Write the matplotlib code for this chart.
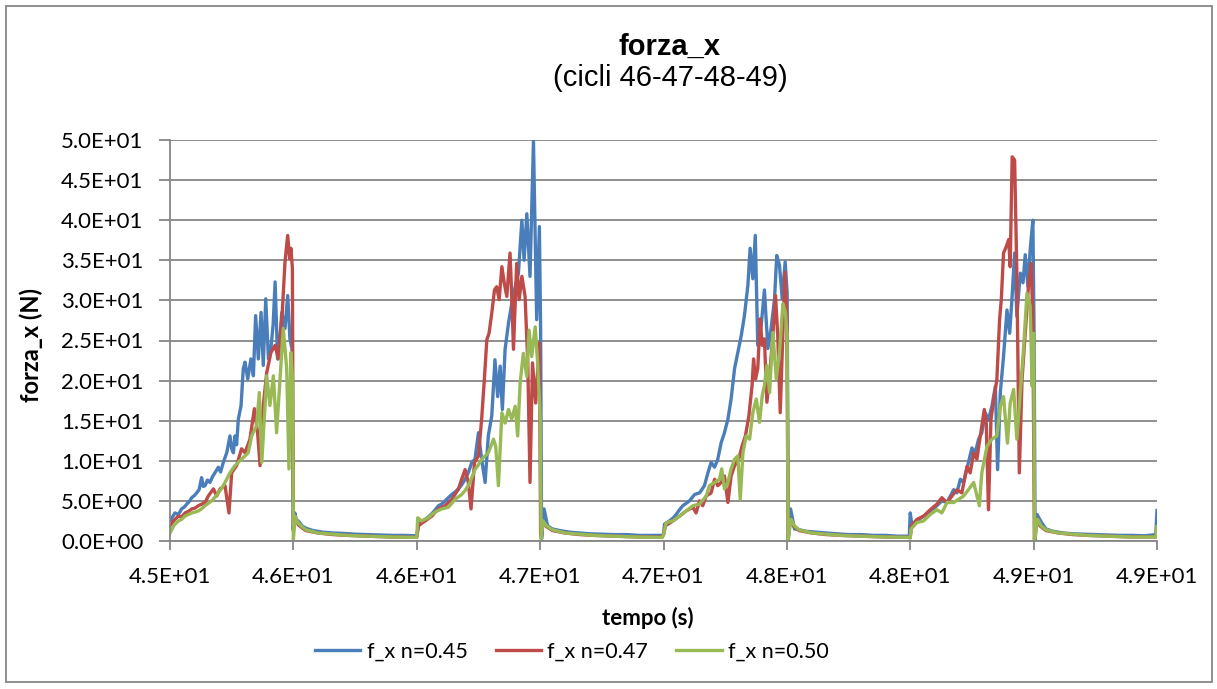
import matplotlib
matplotlib.use("Agg")
import matplotlib.pyplot as plt
from matplotlib.patches import Rectangle

# ---------------- data ----------------
series_labels = ["f_x n=0.45", "f_x n=0.47", "f_x n=0.50"]
series_colors = ["#4A7EBB", "#BE4B48", "#98B954"]

x_ticks = [45.0, 45.5, 46.0, 46.5, 47.0, 47.5, 48.0, 48.5, 49.0]
x_tick_labels = ["4.5E+01", "4.6E+01", "4.6E+01", "4.7E+01", "4.7E+01",
                 "4.8E+01", "4.8E+01", "4.9E+01", "4.9E+01"]
y_ticks = [0, 5, 10, 15, 20, 25, 30, 35, 40, 45, 50]
y_tick_labels = ["0.0E+00", "5.0E+00", "1.0E+01", "1.5E+01", "2.0E+01", "2.5E+01",
                 "3.0E+01", "3.5E+01", "4.0E+01", "4.5E+01", "5.0E+01"]

# f_x n=0.45  (time s, force N)
fx_045 = [
    (45.000, 2.3), (45.010, 3.0), (45.020, 3.5), (45.034, 3.3), (45.047, 4.0), (45.060, 4.3),
    (45.068, 4.6), (45.080, 5.0), (45.088, 5.4), (45.100, 5.7), (45.108, 6.0), (45.118, 6.4),
    (45.128, 7.9), (45.135, 6.8), (45.142, 6.9), (45.152, 7.6), (45.162, 7.3), (45.172, 8.0),
    (45.182, 8.5), (45.196, 9.2), (45.205, 8.6), (45.216, 9.8), (45.230, 11.0), (45.243, 13.1),
    (45.250, 11.5), (45.257, 11.0), (45.263, 13.1), (45.270, 12.0), (45.277, 15.2), (45.288, 16.9),
    (45.297, 21.5), (45.304, 22.3), (45.315, 20.2), (45.328, 22.7), (45.338, 20.6), (45.347, 28.1),
    (45.358, 22.7), (45.369, 28.5), (45.378, 21.9), (45.388, 30.2), (45.399, 22.7), (45.409, 24.0),
    (45.418, 27.0), (45.426, 32.3), (45.436, 22.7), (45.445, 25.0), (45.453, 28.5), (45.466, 26.5),
    (45.477, 30.6), (45.486, 25.2), (45.494, 24.0), (45.499, 1.5), (45.506, 3.5), (45.512, 2.6),
    (45.520, 2.5), (45.535, 1.9), (45.550, 1.6), (45.580, 1.3), (45.620, 1.1), (45.660, 1.0),
    (45.700, 0.95), (45.750, 0.85), (45.800, 0.8), (45.850, 0.75), (45.900, 0.7), (45.950, 0.7),
    (45.995, 0.65),
    (46.000, 0.66), (46.007, 2.1), (46.020, 2.4), (46.034, 2.7), (46.047, 3.0), (46.061, 3.4),
    (46.075, 3.9), (46.088, 4.4), (46.101, 4.6), (46.115, 5.0), (46.128, 5.4), (46.142, 5.8),
    (46.155, 6.1), (46.169, 6.5), (46.182, 7.0), (46.196, 7.7), (46.210, 8.6), (46.223, 9.8),
    (46.236, 10.2), (46.250, 13.5), (46.263, 10.2), (46.277, 7.3), (46.290, 13.1), (46.304, 15.6),
    (46.317, 22.6), (46.328, 18.0), (46.338, 21.8), (46.347, 16.4), (46.358, 23.9), (46.372, 27.2),
    (46.385, 29.6), (46.399, 31.7), (46.412, 33.4), (46.426, 40.0), (46.435, 35.0), (46.446, 40.8),
    (46.459, 33.0), (46.473, 49.9), (46.486, 27.6), (46.497, 39.2), (46.502, 26.3), (46.506, 0.3),
    (46.516, 4.0), (46.530, 1.9), (46.550, 1.5), (46.580, 1.3), (46.620, 1.1), (46.660, 1.0),
    (46.700, 0.9), (46.750, 0.85), (46.800, 0.8), (46.850, 0.8), (46.900, 0.7), (46.950, 0.7),
    (46.995, 0.7),
    (47.000, 0.8), (47.004, 2.1), (47.024, 2.5), (47.040, 2.9), (47.051, 3.3), (47.065, 3.9),
    (47.078, 4.4), (47.092, 4.7), (47.105, 5.0), (47.126, 5.8), (47.146, 6.0), (47.166, 6.9),
    (47.180, 8.5), (47.193, 9.8), (47.207, 9.2), (47.220, 10.2), (47.234, 12.3), (47.247, 13.5),
    (47.261, 15.2), (47.274, 17.7), (47.288, 21.5), (47.301, 23.5), (47.315, 25.6), (47.328, 28.1),
    (47.342, 31.9), (47.351, 36.5), (47.362, 32.7), (47.372, 38.1), (47.382, 24.4), (47.396, 26.9),
    (47.409, 31.3), (47.423, 24.0), (47.436, 26.5), (47.450, 30.2), (47.459, 35.6), (47.470, 34.4),
    (47.481, 30.2), (47.493, 34.8), (47.501, 31.0), (47.506, 0.2), (47.515, 4.0), (47.531, 1.5),
    (47.550, 1.4), (47.580, 1.2), (47.620, 1.1), (47.660, 1.0), (47.700, 0.9), (47.750, 0.8),
    (47.800, 0.8), (47.850, 0.7), (47.900, 0.7), (47.950, 0.6), (47.996, 0.6),
    (48.000, 3.5), (48.007, 1.9), (48.027, 2.5), (48.054, 3.1), (48.081, 3.7), (48.108, 4.4),
    (48.128, 5.0), (48.149, 4.8), (48.176, 6.4), (48.189, 6.0), (48.203, 7.7), (48.216, 7.3),
    (48.236, 9.8), (48.250, 11.6), (48.263, 11.0), (48.277, 12.7), (48.290, 13.5), (48.304, 16.0),
    (48.317, 15.1), (48.331, 16.8), (48.345, 19.3), (48.354, 8.9), (48.365, 18.5), (48.378, 23.0),
    (48.392, 28.8), (48.403, 25.9), (48.412, 30.1), (48.423, 35.9), (48.432, 28.0), (48.446, 33.4),
    (48.457, 32.2), (48.466, 35.7), (48.477, 31.7), (48.486, 36.3), (48.497, 40.0), (48.502, 25.1),
    (48.506, 0.2), (48.514, 3.3), (48.532, 2.3), (48.550, 1.5), (48.580, 1.2), (48.620, 1.0),
    (48.660, 0.9), (48.700, 0.85), (48.750, 0.8), (48.800, 0.75), (48.850, 0.7), (48.900, 0.7),
    (48.950, 0.65), (48.995, 0.8), (49.000, 3.8),
]

# f_x n=0.47
fx_047 = [
    (45.000, 1.9), (45.017, 2.6), (45.034, 3.1), (45.047, 3.0), (45.061, 3.5), (45.075, 3.7),
    (45.088, 4.0), (45.101, 4.1), (45.115, 4.4), (45.128, 4.6), (45.142, 4.8), (45.155, 5.6),
    (45.176, 6.5), (45.189, 5.6), (45.203, 6.5), (45.223, 6.9), (45.239, 3.5), (45.250, 8.5),
    (45.270, 9.4), (45.290, 11.5), (45.304, 11.0), (45.324, 12.7), (45.342, 16.5), (45.355, 13.5),
    (45.365, 9.4), (45.378, 16.9), (45.392, 21.0), (45.409, 23.5), (45.426, 24.4), (45.439, 22.7),
    (45.455, 28.5), (45.466, 34.8), (45.477, 38.1), (45.485, 35.2), (45.490, 36.5), (45.496, 34.0),
    (45.500, 1.2), (45.506, 3.0), (45.520, 2.0), (45.550, 1.3), (45.600, 1.0), (45.660, 0.8),
    (45.720, 0.7), (45.800, 0.6), (45.900, 0.5), (45.995, 0.45),
    (46.000, 0.45), (46.007, 1.9), (46.020, 2.2), (46.034, 2.5), (46.047, 2.8), (46.061, 3.1),
    (46.075, 3.6), (46.088, 4.0), (46.101, 4.2), (46.115, 4.4), (46.128, 4.8), (46.142, 5.2),
    (46.155, 5.8), (46.169, 6.5), (46.182, 7.7), (46.196, 8.9), (46.209, 7.3), (46.220, 4.0),
    (46.234, 9.8), (46.250, 10.6), (46.263, 15.2), (46.273, 19.7), (46.284, 25.1), (46.293, 25.9),
    (46.304, 28.4), (46.315, 31.3), (46.324, 31.7), (46.334, 30.1), (46.345, 34.2), (46.355, 32.1),
    (46.365, 30.5), (46.378, 35.9), (46.385, 30.5), (46.392, 23.9), (46.405, 34.6), (46.415, 30.1),
    (46.426, 33.0), (46.439, 30.5), (46.450, 22.2), (46.459, 7.3), (46.469, 22.2), (46.482, 17.2),
    (46.497, 24.7), (46.502, 0.7), (46.510, 2.5), (46.525, 1.8), (46.550, 1.3), (46.600, 1.0),
    (46.660, 0.8), (46.720, 0.7), (46.800, 0.6), (46.900, 0.5), (46.995, 0.5),
    (47.000, 0.8), (47.008, 1.9), (47.038, 2.5), (47.065, 3.1), (47.092, 3.75), (47.119, 4.2),
    (47.132, 3.5), (47.146, 5.0), (47.159, 4.4), (47.173, 5.6), (47.193, 6.0), (47.207, 7.7),
    (47.220, 6.9), (47.234, 7.3), (47.247, 8.1), (47.261, 4.8), (47.274, 8.1), (47.288, 9.4),
    (47.305, 10.2), (47.319, 11.9), (47.332, 13.1), (47.346, 15.6), (47.359, 19.4), (47.365, 22.7),
    (47.373, 20.2), (47.382, 21.5), (47.392, 27.7), (47.400, 24.4), (47.409, 25.2), (47.419, 17.3),
    (47.430, 20.6), (47.443, 25.6), (47.454, 30.6), (47.463, 25.6), (47.473, 16.0), (47.484, 26.0),
    (47.492, 33.5), (47.500, 27.7), (47.505, 0.2), (47.512, 2.8), (47.525, 1.9), (47.550, 1.3),
    (47.600, 1.0), (47.660, 0.8), (47.720, 0.7), (47.800, 0.6), (47.900, 0.5), (47.995, 0.45),
    (48.000, 0.4), (48.005, 1.9), (48.027, 2.7), (48.054, 3.1), (48.081, 3.9), (48.108, 4.6),
    (48.128, 5.4), (48.149, 4.8), (48.169, 5.6), (48.189, 6.4), (48.209, 6.0), (48.230, 9.3),
    (48.243, 8.5), (48.257, 11.0), (48.270, 10.2), (48.286, 13.5), (48.300, 16.4), (48.308, 14.7),
    (48.317, 3.9), (48.327, 15.1), (48.338, 17.6), (48.351, 20.1), (48.362, 27.6), (48.369, 30.1),
    (48.378, 35.9), (48.389, 36.7), (48.399, 37.6), (48.405, 34.2), (48.413, 47.9), (48.423, 47.5),
    (48.432, 33.4), (48.442, 8.5), (48.453, 20.1), (48.466, 25.9), (48.480, 32.2), (48.490, 34.6),
    (48.497, 27.2), (48.503, 0.2), (48.512, 2.8), (48.525, 1.9), (48.550, 1.3), (48.600, 1.0),
    (48.660, 0.8), (48.720, 0.7), (48.800, 0.6), (48.900, 0.5), (48.995, 0.5), (49.000, 1.0),
]

# f_x n=0.50
fx_050 = [
    (45.000, 1.0), (45.017, 2.0), (45.034, 2.5), (45.047, 2.7), (45.061, 3.1), (45.075, 3.3),
    (45.088, 3.5), (45.101, 3.6), (45.115, 3.75), (45.128, 4.0), (45.142, 4.4), (45.155, 4.7),
    (45.169, 5.0), (45.183, 5.5), (45.196, 6.0), (45.210, 6.6), (45.223, 7.3), (45.243, 8.5),
    (45.263, 9.4), (45.290, 10.2), (45.317, 11.0), (45.331, 13.1), (45.351, 14.4), (45.362, 18.5),
    (45.372, 9.8), (45.385, 16.9), (45.392, 20.6), (45.405, 16.9), (45.419, 20.6), (45.432, 13.5),
    (45.446, 20.2), (45.459, 26.5), (45.473, 21.5), (45.482, 9.0), (45.490, 23.5), (45.497, 20.0),
    (45.500, 0.2), (45.507, 3.1), (45.520, 2.2), (45.550, 1.4), (45.600, 1.0), (45.660, 0.85),
    (45.720, 0.7), (45.800, 0.6), (45.900, 0.5), (45.995, 0.45),
    (46.000, 0.45), (46.004, 2.9), (46.020, 2.5), (46.034, 2.7), (46.047, 2.9), (46.061, 3.3),
    (46.074, 3.6), (46.088, 3.8), (46.101, 4.0), (46.115, 4.1), (46.128, 4.2), (46.142, 4.7),
    (46.155, 5.2), (46.169, 5.5), (46.182, 5.8), (46.196, 6.3), (46.209, 6.9), (46.223, 7.9),
    (46.236, 8.9), (46.250, 9.5), (46.263, 10.2), (46.277, 10.6), (46.290, 11.0), (46.311, 12.7),
    (46.320, 11.8), (46.331, 6.9), (46.345, 16.0), (46.358, 14.7), (46.372, 16.4), (46.385, 15.2),
    (46.399, 16.8), (46.409, 13.1), (46.419, 19.7), (46.432, 23.4), (46.446, 20.5), (46.455, 26.3),
    (46.466, 23.0), (46.480, 26.7), (46.490, 22.2), (46.500, 15.6), (46.504, 0.25), (46.512, 2.5),
    (46.525, 1.9), (46.550, 1.4), (46.600, 1.0), (46.660, 0.85), (46.720, 0.7), (46.800, 0.6),
    (46.900, 0.5), (46.995, 0.45),
    (47.000, 0.8), (47.011, 2.3), (47.038, 2.5), (47.065, 3.1), (47.092, 3.75), (47.119, 4.4),
    (47.146, 4.6), (47.173, 5.6), (47.186, 6.9), (47.207, 7.3), (47.227, 7.7), (47.236, 9.0),
    (47.247, 6.5), (47.261, 7.3), (47.274, 9.0), (47.288, 10.2), (47.301, 10.6), (47.311, 5.2),
    (47.322, 11.0), (47.335, 13.1), (47.349, 12.7), (47.362, 16.0), (47.376, 17.7), (47.389, 14.8),
    (47.400, 18.1), (47.409, 19.4), (47.419, 21.9), (47.430, 18.5), (47.443, 26.0), (47.457, 20.2),
    (47.470, 23.5), (47.484, 29.6), (47.494, 28.5), (47.501, 25.6), (47.505, 0.2), (47.517, 2.7),
    (47.530, 1.9), (47.550, 1.4), (47.600, 1.0), (47.660, 0.85), (47.720, 0.7), (47.800, 0.6),
    (47.900, 0.5), (47.995, 0.45),
    (48.000, 0.4), (48.003, 1.5), (48.027, 2.3), (48.054, 2.5), (48.081, 3.3), (48.108, 3.9),
    (48.128, 3.5), (48.149, 4.8), (48.176, 4.8), (48.196, 5.2), (48.216, 5.6), (48.236, 6.4),
    (48.257, 7.3), (48.280, 4.4), (48.290, 8.5), (48.311, 11.8), (48.331, 12.7), (48.351, 13.1),
    (48.365, 16.8), (48.378, 18.0), (48.394, 12.2), (48.405, 17.2), (48.419, 18.9), (48.432, 12.7),
    (48.446, 18.5), (48.459, 23.9), (48.473, 30.9), (48.486, 29.3), (48.494, 19.3), (48.500, 25.9),
    (48.504, 0.2), (48.516, 2.7), (48.530, 1.9), (48.550, 1.4), (48.600, 1.0), (48.660, 0.85),
    (48.720, 0.7), (48.800, 0.6), (48.900, 0.5), (48.995, 0.5), (49.000, 1.8),
]

series_data = [fx_045, fx_047, fx_050]

# ---------------- figure ----------------
W, H = 1217, 689
fig = plt.figure(figsize=(W / 100, H / 100), dpi=100)
fig.patch.set_facecolor("white")

def fx(px):
    return px / W

def fy(py):
    return 1 - py / H

grey = "#868686"
tick_font = "Lato"

ax = fig.add_axes([fx(170), fy(541), fx(1157) - fx(170), fy(140) - fy(541)])

for data, lab, col in zip(series_data, series_labels, series_colors):
    t = [p[0] for p in data]
    v = [p[1] for p in data]
    ax.plot(t, v, color=col, lw=2.4, label=lab, solid_joinstyle="round")

ax.set_xlim(45.0, 49.0)
ax.set_ylim(0, 50)
ax.set_xticks(x_ticks)
ax.set_xticklabels(x_tick_labels, fontfamily=tick_font, fontsize=16)
ax.set_yticks(y_ticks)
ax.set_yticklabels(y_tick_labels, fontfamily=tick_font, fontsize=16)
ax.yaxis.grid(True, color=grey, lw=1.3)
ax.set_axisbelow(True)
for s in ["top", "right"]:
    ax.spines[s].set_visible(False)
for s in ["left", "bottom"]:
    ax.spines[s].set_color(grey)
    ax.spines[s].set_linewidth(1.3)
ax.tick_params(axis="x", direction="out", length=6.5, width=1.3, color=grey, pad=12)
ax.tick_params(axis="y", direction="out", length=8, width=1.3, color=grey, pad=11)

# titles
fig.text(fx(670), fy(55), "forza_x", ha="center", va="baseline",
         fontfamily="Liberation Sans", fontweight="bold", fontsize=21)
fig.text(fx(670), fy(86), "(cicli 46-47-48-49)", ha="center", va="baseline",
         fontfamily="Liberation Sans", fontsize=21)

fig.text(fx(648), fy(618), "tempo (s)", ha="center", va="center",
         fontfamily=tick_font, fontweight="bold", fontsize=16)
fig.text(fx(31), fy(345), "forza_x (N)", ha="center", va="center", rotation=90,
         fontfamily=tick_font, fontweight="bold", fontsize=17)

fs_leg = 15.5
leg = fig.legend(loc="center", bbox_to_anchor=(fx(572), fy(652)), ncol=3, frameon=False,
                 prop={"family": tick_font, "size": fs_leg},
                 handlelength=2.1, handletextpad=0.3, columnspacing=1.3)
for h in leg.get_lines():
    h.set_linewidth(2.4)

# outer chart border
fig.patches.append(Rectangle((fx(6), fy(682)), fx(1212) - fx(6), fy(6) - fy(682),
                             transform=fig.transFigure, fill=False, edgecolor=grey, lw=1.3))

fig.savefig("out.png", dpi=100)
